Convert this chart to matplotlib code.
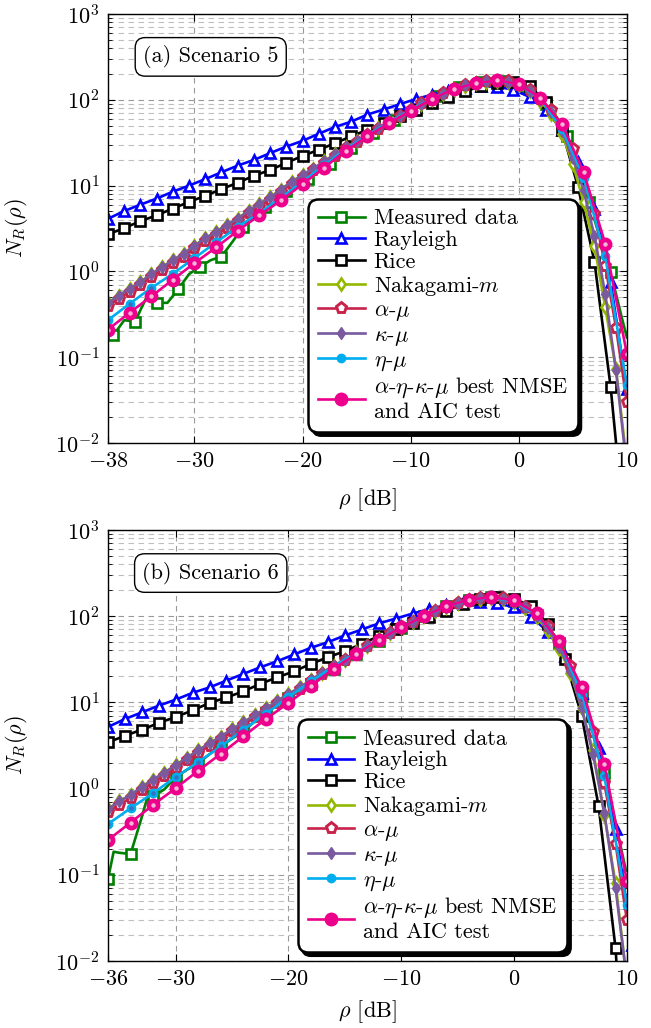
import matplotlib
matplotlib.use("Agg")
import matplotlib.pyplot as plt
from matplotlib.patches import FancyBboxPatch
from matplotlib.transforms import IdentityTransform
from matplotlib.ticker import LogLocator, NullFormatter, FixedLocator

plt.rcParams["font.family"] = "serif"
plt.rcParams["font.serif"] = ["cmr10"]
plt.rcParams["mathtext.fontset"] = "cm"
plt.rcParams["axes.formatter.use_mathtext"] = True
plt.rcParams["font.size"] = 16

# ---------------- (a) Scenario 5 ----------------
rho5_meas = [-38, -37.5, -36.5, -35.5, -34.5, -33.5, -32.5, -31.5, -30.5, -29.5, -28.5,
             -27.5, -26.5, -25.5, -24.5, -23.5, -22.5, -21.5, -20.5, -19.5, -18.5,
             -17.5, -16.5, -15.5, -14.5, -13.5, -12.5, -11.5, -10.5, -9.5, -8.5,
             -7.5, -6.5, -5.5, -4.5, -3.5, -2.5, -1.5, -0.5, 0.5, 1.5,
             2.5, 3.5, 4.5, 5.5, 6.5, 7.5, 8.5, 9.5, 10]
measured5 = [0.245, 0.18, 0.27, 0.26, 0.48, 0.43, 0.43, 0.62, 0.93, 1.13, 1.35,
             1.49, 2.2, 3.3, 4.15, 5.65, 7.2, 8.6, 10.1, 12, 14.5,
             18, 22.5, 27.5, 33.5, 41, 49, 58, 69, 82, 96,
             111, 126, 140, 152, 161, 167, 167, 160, 142, 117,
             89, 63, 38, 18, 6.5, 2.5, 0.98, 0.3, 0.17]

rho5_15 = [-38, -36.5, -35, -33.5, -32, -30.5, -29, -27.5, -26, -24.5, -23, -21.5,
           -20, -18.5, -17, -15.5, -14, -12.5, -11, -9.5, -8, -6.5, -5, -3.5,
           -2, -0.5, 1, 2.5, 4, 5.5, 7, 8.5, 10]
rayleigh5 = [4.1, 5.05, 6.0, 7.05, 8.5, 10.0, 11.9, 14.3, 17.1, 19.9, 23.9, 28.5,
             33.2, 40.2, 48.2, 55.6, 67.3, 77, 89, 102, 115, 128, 138, 144,
             142, 131, 108, 77, 44, 18.8, 5.4, 0.75, 0.042]
rice5 = [2.7, 3.2, 3.85, 4.5, 5.4, 6.45, 7.6, 9.1, 10.8, 13.0, 15.2, 18.4,
         22.2, 26.1, 31.2, 37.4, 44.8, 53, 64, 77, 92, 109, 126, 143,
         157, 163, 145, 95, 44, 9.5, 1.3, 0.045, 0.0005]

rho5_1 = list(range(-38, 11))
nakagami5 = [0.43, 0.52, 0.63, 0.75, 0.93, 1.12, 1.35, 1.61, 2.0, 2.42,
             2.9, 3.5, 4.1, 5.1, 6.1, 7.3, 9.0, 11.1, 13.3, 15.8,
             19.2, 23.2, 27.8, 32.8, 39, 46.5, 54.5, 65, 76, 90,
             103, 118, 132, 146, 155, 163, 165, 162, 148, 126,
             98, 68, 40, 18, 6.4, 2.0, 0.38, 0.072, 0.006]
alphamu5 = [0.40, 0.48, 0.58, 0.69, 0.86, 1.04, 1.25, 1.49, 1.87, 2.24,
            2.68, 3.24, 3.83, 4.77, 5.7, 6.85, 8.5, 10.5, 12.6, 15.1,
            18.4, 22.4, 27.1, 32.1, 38.5, 46, 54.2, 65, 76, 90.5,
            104, 119, 133, 148, 156, 165, 167, 165, 150, 130,
            103, 76, 49, 26.5, 13.5, 4.7, 1.17, 0.22, 0.03]
kappamu5 = [0.43, 0.52, 0.63, 0.75, 0.93, 1.12, 1.35, 1.61, 2.0, 2.42,
            2.9, 3.5, 4.1, 5.1, 6.1, 7.3, 9.0, 11.1, 13.3, 15.8,
            19.2, 23.2, 27.8, 32.8, 39, 46.5, 54.5, 65, 76, 90,
            103, 118, 132, 147, 156, 164, 166, 163, 149, 128,
            100, 72, 43, 21, 8.8, 2.6, 0.55, 0.07, 0.005]

rho5_2 = list(range(-38, 11, 2))
etamu5 = [0.27, 0.42, 0.64, 0.94, 1.43, 2.18, 3.3, 4.8, 7.2, 11.1, 17.3, 26.5,
          38.5, 54.5, 76, 104, 133, 156, 167, 151, 102, 46, 12.4, 1.5, 0.047]
aekm5 = [0.21, 0.33, 0.51, 0.80, 1.25, 1.9, 2.98, 4.5, 6.7, 10.4, 16.2, 25.5,
         37.4, 53.5, 74, 103, 133, 156, 168, 152, 105, 52, 14.4, 2.1, 0.11]

# ---------------- (b) Scenario 6 ----------------
rho6_meas = [-36, -35.5, -35, -34, -33, -32.5, -32, -31,
             -30, -29, -28, -27, -26, -25, -24, -23, -22, -21,
             -20, -19, -18, -17, -16, -15, -14, -13, -12, -11,
             -10, -9, -8, -7, -6, -5, -4, -3, -2, -1,
             0, 1, 2, 3, 4, 5, 6, 7, 8, 9, 10]
measured6 = [0.089, 0.185, 0.18, 0.174, 0.47, 0.8, 0.81, 0.98,
             1.36, 1.65, 1.97, 2.5, 3.08, 3.8, 4.6, 6.0, 7.6, 9.3,
             11.3, 13.6, 16.5, 20, 24.5, 30, 36.5, 44, 52, 62,
             73, 86, 100, 115, 130, 144, 155, 162, 165, 162,
             150, 130, 104, 77, 49, 26, 12, 4.3, 1.5, 0.4, 0.1]

rho6_15 = [-36, -34.5, -33, -31.5, -30, -28.5, -27, -25.5, -24, -22.5, -21, -19.5,
           -18, -16.5, -15, -13.5, -12, -10.5, -9, -7.5, -6, -4.5, -3, -1.5,
           0, 1.5, 3, 4.5, 6, 7.5, 9, 10.5]
rayleigh6 = [5.18, 6.41, 7.65, 9.15, 10.75, 12.9, 14.9, 17.9, 21.4, 25.5, 30, 35.9,
             43, 49.9, 59.7, 70, 82.2, 93.7, 107, 121, 134, 143, 147, 142,
             126, 99, 66, 34.4, 12.8, 2.94, 0.34, 0.0154]
rice6 = [3.43, 4.1, 4.82, 5.76, 6.77, 8.07, 9.84, 11.4, 13.4, 16.4, 19.5, 22.9,
         28, 33.4, 39.2, 47.8, 58.5, 70, 84, 99, 116, 137, 159, 168,
         159, 131, 80, 32, 7.0, 0.62, 0.014, 1e-5]

rho6_1 = list(range(-36, 11))
nakagami6 = [0.58, 0.71, 0.84, 1.05, 1.27, 1.53, 1.87, 2.28, 2.77, 3.36,
             4.0, 4.9, 5.85, 7.1, 8.5, 10.4, 12.5, 14.9, 18.2, 22.1,
             26.5, 31.3, 38, 45.5, 54, 63.5, 74, 86, 100, 114,
             129, 143, 153, 160, 163, 159, 146, 125, 97, 68,
             42, 22, 8.5, 2.77, 0.5, 0.08, 0.006]
alphamu6 = [0.53, 0.65, 0.77, 0.97, 1.17, 1.41, 1.73, 2.12, 2.58, 3.14,
            3.75, 4.6, 5.5, 6.7, 8.1, 9.9, 12, 14.4, 17.7, 21.6,
            26, 30.8, 37.5, 45, 53.5, 63, 74, 86, 100, 114,
            129, 143, 154, 161, 164, 161, 148, 129, 103, 76,
            49, 26.7, 12, 4.5, 1.15, 0.23, 0.03]
kappamu6 = [0.58, 0.71, 0.84, 1.05, 1.27, 1.53, 1.87, 2.28, 2.77, 3.36,
            4.0, 4.9, 5.85, 7.1, 8.5, 10.4, 12.5, 14.9, 18.2, 22.1,
            26.5, 31.3, 38, 45.5, 54, 63.5, 74, 86, 100, 114,
            129, 143, 154, 161, 164, 160, 147, 127, 100, 72,
            44, 23, 8.5, 2.5, 0.52, 0.07, 0.006]

rho6_2 = list(range(-36, 11, 2))
etamu6 = [0.388, 0.591, 0.885, 1.36, 2.03, 3.08, 4.82, 7.4, 11.5, 17.5, 26, 37.5,
          53.5, 74, 100, 129, 154, 164, 148, 104, 51, 12.5, 1.4, 0.045]
aekm6 = [0.253, 0.403, 0.646, 1.01, 1.61, 2.53, 4.03, 6.41, 9.84, 15.5, 24.5, 36.5,
         53, 74, 100, 130, 155, 166, 152, 108, 51, 15, 1.95, 0.085]

LABELS = ["Measured data", "Rayleigh", "Rice", "Nakagami-$m$", r"$\alpha$-$\mu$",
          r"$\kappa$-$\mu$", r"$\eta$-$\mu$", r"$\alpha$-$\eta$-$\kappa$-$\mu$ best NMSE" + "\nand AIC test"]

STYLES = [
    dict(color="#008000", marker="s", mfc="white", ms=7.5, mew=1.9),
    dict(color="#0000ff", marker="^", mfc="white", ms=7.5, mew=1.9),
    dict(color="black", marker="s", mfc="white", ms=7.5, mew=1.9),
    dict(color="#93b800", marker="d", mfc="white", ms=6.5, mew=1.9),
    dict(color="#c8234b", marker="p", mfc="white", ms=8, mew=2.1),
    dict(color="#7a5a9e", marker="d", mfc="#7a5a9e", ms=6.5, mew=1.0),
    dict(color="#00aeef", marker="o", mfc="#00aeef", ms=6, mew=1.0),
    dict(color="#ec008c", marker="o", mfc="#ec008c", ms=9, mew=1.0),
]
DOTS = {6: "#3a6fc0", 7: "#f7b6d8"}


def meas_marks(x, start):
    return [i for i, v in enumerate(x) if (v - start) % 2 == 0]


def draw_panel(ax, curves, xlim, xticks, tag, leg_anchor):
    for idx, (x, y, every) in enumerate(curves):
        ax.plot(x, y, lw=1.9, label=LABELS[idx], markevery=every, **STYLES[idx])
        if idx in DOTS:
            ax.plot(x, y, ls="none", marker="o", ms=2.2, color=DOTS[idx], markevery=every)

    ax.set_yscale("log")
    ax.set_xlim(*xlim)
    ax.set_ylim(1e-2, 1e3)
    ax.xaxis.set_major_locator(FixedLocator(xticks))
    ax.yaxis.set_major_locator(LogLocator(base=10, numticks=10))
    ax.yaxis.set_minor_locator(LogLocator(base=10, subs=range(2, 10), numticks=20))
    ax.yaxis.set_minor_formatter(NullFormatter())
    ax.tick_params(which="both", direction="in", top=True, right=True, labelsize=16)
    ax.tick_params(which="major", length=5, width=0.8)
    ax.tick_params(which="minor", length=3, width=0.6)
    ax.tick_params(axis="x", pad=6)
    ax.tick_params(axis="y", pad=6)
    ax.grid(which="major", ls=(0, (5, 4)), color="0.6", lw=0.8)
    ax.grid(which="minor", axis="y", ls=(0, (5, 4)), color="0.75", lw=0.8)
    for s in ax.spines.values():
        s.set_linewidth(1.0)

    ax.set_ylabel(r"$N_R(\rho)$", fontsize=16)
    ax.yaxis.set_label_coords(-0.15, 0.5)
    ax.set_xlabel(r"$\rho$ [dB]", fontsize=16)

    ax.text(0.198, 0.90, tag, transform=ax.transAxes, ha="center", va="center",
            fontsize=16, zorder=6,
            bbox=dict(boxstyle="round,pad=0.35,rounding_size=0.45", fc="white", ec="black", lw=1.0))

    leg = ax.legend(loc="lower right", bbox_to_anchor=leg_anchor, borderaxespad=0,
                    fontsize=16, numpoints=1, handlelength=2.1, handletextpad=0.4,
                    labelspacing=0.1, borderpad=0.45, fancybox=True, framealpha=1,
                    edgecolor="black")
    leg.get_frame().set_linewidth(1.8)
    leg.get_frame().set_boxstyle("round", pad=0, rounding_size=0.45)
    return leg


fig = plt.figure(figsize=(6.51, 10.28), dpi=100)
ax1 = fig.add_axes([0.1659, 0.5691, 0.797, 0.4173])
ax2 = fig.add_axes([0.1659, 0.0652, 0.797, 0.4193])

curves5 = [
    (rho5_meas, measured5, meas_marks(rho5_meas, -37.5)),
    (rho5_15, rayleigh5, None),
    (rho5_15, rice5, None),
    (rho5_1, nakagami5, None),
    (rho5_1, alphamu5, None),
    (rho5_1, kappamu5, None),
    (rho5_2, etamu5, None),
    (rho5_2, aekm5, None),
]
curves6 = [
    (rho6_meas, measured6, meas_marks(rho6_meas, -36)),
    (rho6_15, rayleigh6, None),
    (rho6_15, rice6, None),
    (rho6_1, nakagami6, None),
    (rho6_1, alphamu6, None),
    (rho6_1, kappamu6, None),
    (rho6_2, etamu6, None),
    (rho6_2, aekm6, None),
]

leg1 = draw_panel(ax1, curves5, (-38, 10), [-38, -30, -20, -10, 0, 10], "(a) Scenario 5", (0.905, 0.025))
ax1.xaxis.set_label_coords(0.5, -0.1)
leg2 = draw_panel(ax2, curves6, (-36, 10), [-36, -30, -20, -10, 0, 10], "(b) Scenario 6", (0.885, 0.02))
ax2.xaxis.set_label_coords(0.5, -0.086)

# thick black drop shadow behind each legend box (pixel coordinates)
fig.canvas.draw()
for ax, leg in [(ax1, leg1), (ax2, leg2)]:
    bb = leg.get_frame().get_window_extent()
    shadow = FancyBboxPatch((bb.x0 + 4, bb.y0 - 4), bb.width, bb.height,
                            boxstyle="round,pad=0,rounding_size=9",
                            transform=IdentityTransform(), fc="black", ec="black",
                            lw=1, zorder=4.9, clip_on=False)
    ax.add_artist(shadow)

fig.savefig("out.png", dpi=100)
